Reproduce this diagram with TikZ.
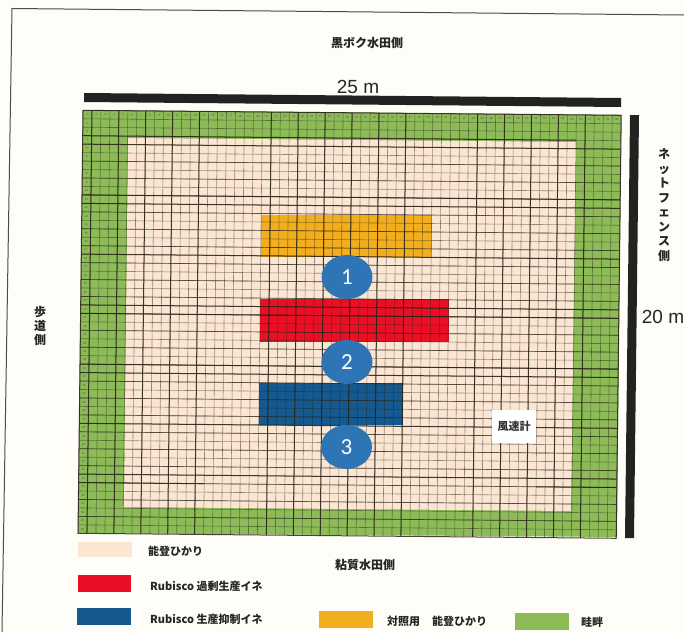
\documentclass[tikz,border=0pt]{standalone}
\usepackage{fontspec}
\setmainfont{Liberation Sans}
\newfontfamily\jp{Noto Sans CJK JP}
\newfontfamily\numf{Carlito}
\usetikzlibrary{shapes.geometric}
\definecolor{paper}{HTML}{FEFDF8}
\definecolor{beigeC}{HTML}{FBE5D3}
\definecolor{greenC}{HTML}{8CBB58}
\definecolor{orangeC}{HTML}{F3AE1E}
\definecolor{redC}{HTML}{EA0F25}
\definecolor{blueC}{HTML}{14598F}
\definecolor{circC}{HTML}{2E75B6}
\definecolor{barC}{HTML}{222222}
\definecolor{gridC}{HTML}{2A2418}
\tikzset{
  lab/.style={font=\jp\bfseries\fontsize{12}{14}\selectfont,text=black!85,inner sep=0pt},
  leg/.style={font=\jp\bfseries\fontsize{11}{13}\selectfont,text=black!85,inner sep=0pt,anchor=west},
  vlab/.style={lab,align=center},
  thinl/.style={line width=.6pt,gridC,opacity=.48},
  midl/.style={line width=.7pt,gridC,opacity=.6},
  thickl/.style={line width=1pt,gridC,opacity=.85},
  numc/.style={ellipse,fill=circC,minimum width=51pt,minimum height=44pt,inner sep=0pt,text=white,font=\numf\fontsize{23}{24}\selectfont},
  tinyn/.style={font=\fontsize{3}{3}\selectfont,text=black!65,inner sep=0pt},
  dim/.style={font=\fontsize{19}{20}\selectfont,text=black!85,inner sep=0pt}
}
\begin{document}
\begin{tikzpicture}[x=1pt,y=-1pt]
\useasboundingbox (0,0) rectangle (684,632);
\fill[paper] (0,0) rectangle (684,632);
% page frame
\draw[line width=1pt,black!70] (2,632) -- (12,8.5) -- (684,15);
% field
\fill[greenC] (83,110) -- (621,115) -- (617,537) -- (78,533) -- cycle;
\fill[beigeC] (128,138) -- (576,142) -- (571,511) -- (124,507) -- cycle;
% plots
\fill[orangeC] (261,215) rectangle (432,257);
\fill[redC] (259.5,299) rectangle (449,342);
\fill[blueC] (258.5,383) rectangle (403,425);
% grid
\begin{scope}[shift={(83,110.3)},x={(8.97pt,-0.083pt)},y={(-0.1pt,-8.46pt)}]
\foreach \i in {0,...,60} \draw[thinl] (\i,0) -- (\i,50);
\foreach \j in {0,...,49} \draw[thinl] (0,\j) -- (60,\j);
\foreach \j in {6,8,...,48} \draw[midl] (0,\j) -- (60,\j);
\foreach \i in {1,4,7,10,13,21,24,27,30,33,36,44,47,50,53,56} \draw[thickl] (\i,0) -- (\i,50);
\foreach \j in {4,10,11,17,23,24,30,31,37,43} \draw[thickl] (0,\j) -- (60,\j);
\draw[thickl] (0,3) -- (55,3);
\draw[thickl] (0,44) -- (14,44) (51,44) -- (60,44);
\draw[thickl] (0,0) -- (60,0) -- (60,50) -- (0,50) -- cycle;
\foreach \i in {1,...,60} \node[tinyn] at (\i-.5,.5) {\i};
\foreach \j in {2,...,50} \node[tinyn] at (.5,\j-.5) {\j};
\end{scope}
% dimension bars
\fill[barC] (84,93) -- (621,98) -- (621,107) -- (84,102) -- cycle;
\fill[barC] (630,115) -- (639,115) -- (634,538) -- (625,538) -- cycle;
\node[dim] (w) at (358,87) {25 m};
\node[dim] (h) at (663,317) {20 m};
% side labels
\node[lab] (north) at (367,43) {黒ボク水田側};
\node[lab] (south) at (365,565) {粘質水田側};
\node[vlab,font=\jp\bfseries\fontsize{12}{14}\selectfont] (west) at (40,326) {歩\\道\\側};
\node[vlab,font=\jp\bfseries\fontsize{12}{14.5}\selectfont] (east) at (664,205) {ネ\\ッ\\ト\\フ\\ェ\\ン\\ス\\側};
% circles
\node[numc] (c1) at (347,277) {1};
\node[numc] (c2) at (347,362) {2};
\node[numc] (c3) at (346.5,447) {3};
% wind meter
\node[fill=white,minimum width=44pt,minimum height=33pt,inner sep=0pt,font=\jp\bfseries\fontsize{11}{12}\selectfont,text=black!80] (wind) at (514,426.5) {風速計};
% legend
\fill[beigeC] (78,542) rectangle (132,557);
\fill[redC] (78,575) rectangle (131,592);
\fill[blueC] (77,608) rectangle (131,625);
\fill[orangeC] (319,611) rectangle (373,628);
\fill[greenC] (515,613) rectangle (569,630);
\node[leg] (l1) at (148,551.5) {能登ひかり};
\node[leg] (l2) at (150,586) {Rubisco 過剰生産イネ};
\node[leg] (l3) at (150,619) {Rubisco 生産抑制イネ};
\node[leg] (l4) at (387,621) {対照用\hspace{12pt}能登ひかり};
\node[leg] (l5) at (581,622) {畦畔};
\end{tikzpicture}
\end{document}
